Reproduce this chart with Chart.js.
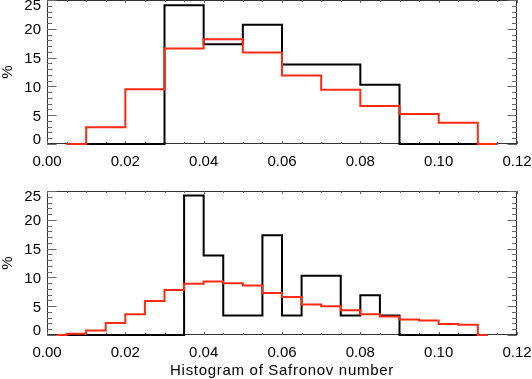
<!DOCTYPE html>
<html>
<head>
<meta charset="utf-8">
<script src="https://cdn.jsdelivr.net/npm/chart.js@4.4.0/dist/chart.umd.min.js"></script>
<style>
    html, body { margin: 0; padding: 0; background: #fff; }
    #wrap { position: relative; width: 532px; height: 379px; }
    .panel { position: absolute; left: 0; width: 532px; }
</style>
</head>
<body>
<div id="wrap">
    <div class="panel" style="top:0"><canvas id="topChart" width="532" height="180"></canvas></div>
    <div class="panel" style="top:180px"><canvas id="bottomChart" width="532" height="199"></canvas></div>
</div>
<script>
// axis ticks
const xTickValues = [0, 0.02, 0.04, 0.06, 0.08, 0.10, 0.12];
const xTickLabels = ["0.00", "0.02", "0.04", "0.06", "0.08", "0.10", "0.12"];
const yTickValues = [0, 5, 10, 15, 20, 25];
const yTickLabels = ["0", "5", "10", "15", "20", "25"];

// top panel: bins of 0.01 (bin centres)
const topBins  = [0.005, 0.015, 0.025, 0.035, 0.045, 0.055, 0.065, 0.075, 0.085, 0.095, 0.105, 0.115];
const topBlack = [0, 0, 0, 24.1, 17.3, 20.7, 13.8, 13.8, 10.3, 0, 0, 0];
const topRed   = [0, 2.9, 9.5, 16.6, 18.2, 15.9, 11.9, 9.4, 6.6, 5.2, 3.7, 0];

// bottom panel: bins of 0.005 (bin centres)
const botBins  = [0.0025, 0.0075, 0.0125, 0.0175, 0.0225, 0.0275, 0.0325, 0.0375, 0.0425, 0.0475, 0.0525, 0.0575,
                  0.0625, 0.0675, 0.0725, 0.0775, 0.0825, 0.0875, 0.0925, 0.0975, 0.1025, 0.1075, 0.1125];
const botBlack = [0, 0, 0, 0, 0, 0, 0, 24.2, 13.8, 3.4, 3.4, 17.3, 3.4, 10.3, 10.3, 3.4, 6.9, 3.4, 0, 0, 0, 0, 0];
const botRed   = [0, 0.2, 0.8, 2.1, 3.6, 5.9, 7.8, 8.9, 9.3, 9.0, 8.6, 7.3, 6.6, 5.3, 5.0, 4.3, 3.6, 3.2, 2.7, 2.5, 1.9, 1.8, 0];

const FONT = '15px "Liberation Sans", Arial, sans-serif';

function minorValues(majors, divisions) {
    const out = [];
    for (let i = 0; i < majors.length - 1; i++) {
        const step = (majors[i + 1] - majors[i]) / divisions;
        for (let k = 1; k < divisions; k++) out.push(majors[i] + k * step);
    }
    return out;
}

// IDL style frame: box + inward ticks on all four sides (under the data), labels
const idlAxes = {
    id: "idlAxes",
    beforeDatasetsDraw(chart) {
        const { ctx, chartArea: a } = chart;
        const xs = chart.scales.x, ys = chart.scales.y;
        ctx.save();
        ctx.strokeStyle = "#333";
        ctx.lineWidth = 1;
        ctx.strokeRect(a.left + 0.5, a.top + 0.5, a.right - a.left - 1, a.bottom - a.top - 1);

        ctx.strokeStyle = "#666";
        ctx.beginPath();
        const xTick = (v, len) => {
            const px = Math.round(xs.getPixelForValue(v)) + 0.5;
            ctx.moveTo(px, a.bottom); ctx.lineTo(px, a.bottom - len);
            ctx.moveTo(px, a.top); ctx.lineTo(px, a.top + len);
        };
        const yTick = (v, len) => {
            const py = Math.round(ys.getPixelForValue(v)) + 0.5;
            ctx.moveTo(a.left, py); ctx.lineTo(a.left + len, py);
            ctx.moveTo(a.right, py); ctx.lineTo(a.right - len, py);
        };
        xTickValues.forEach(v => xTick(v, 3));
        minorValues(xTickValues, 4).forEach(v => xTick(v, 2));
        yTickValues.forEach(v => yTick(v, 9.5));
        minorValues(yTickValues, 5).forEach(v => yTick(v, 5));
        ctx.stroke();
        ctx.restore();
    },
    afterDraw(chart, args, opts) {
        const { ctx, chartArea: a } = chart;
        const xs = chart.scales.x, ys = chart.scales.y;
        ctx.save();
        ctx.fillStyle = "#000";
        ctx.font = FONT;
        ctx.textAlign = "center";
        ctx.textBaseline = "alphabetic";
        xTickValues.forEach((v, i) => {
            ctx.fillText(xTickLabels[i], xs.getPixelForValue(v), a.bottom + 22);
        });

        ctx.textAlign = "right";
        yTickValues.forEach((v, i) => {
            const base = Math.min(Math.max(ys.getPixelForValue(v) + 5.4, a.top + 10), a.bottom);
            ctx.fillText(yTickLabels[i], a.left - 6, base);
        });

        // y title
        ctx.save();
        ctx.translate(8, (a.top + a.bottom) / 2);
        ctx.rotate(-Math.PI / 2);
        ctx.textAlign = "center";
        ctx.textBaseline = "middle";
        ctx.fillText(opts.yTitle || "", 0, 0);
        ctx.restore();

        if (opts.xTitle) {
            ctx.textAlign = "center";
            ctx.letterSpacing = "0.7px";
            ctx.fillText(opts.xTitle, (a.left + a.right) / 2, a.bottom + 40);
        }
        ctx.restore();
    }
};

function pts(xsArr, ysArr) {
    return xsArr.map((x, i) => ({ x: x, y: ysArr[i] }));
}

function makeHist(canvasId, bins, black, red, padding, xTitle) {
    return new Chart(document.getElementById(canvasId), {
        type: "line",
        data: {
            datasets: [
                {
                    data: pts(bins, red),
                    borderColor: "#ff2a14",
                    borderWidth: 2,
                    stepped: "middle",
                    pointRadius: 0,
                    fill: false,
                    clip: 3,
                    order: 0
                },
                {
                    data: pts(bins, black),
                    borderColor: "#000",
                    borderWidth: 2,
                    stepped: "middle",
                    pointRadius: 0,
                    fill: false,
                    clip: 3,
                    order: 1
                }
            ]
        },
        options: {
            responsive: false,
            animation: false,
            layout: { padding: padding },
            plugins: {
                legend: { display: false },
                tooltip: { enabled: false },
                idlAxes: { yTitle: "%", xTitle: xTitle }
            },
            scales: {
                x: { type: "linear", min: 0, max: 0.12, display: false },
                y: { type: "linear", min: 0, max: 25, display: false }
            }
        },
        plugins: [idlAxes]
    });
}

makeHist("topChart", topBins, topBlack, topRed, { left: 47, right: 15, top: 0, bottom: 36 }, "");
makeHist("bottomChart", botBins, botBlack, botRed, { left: 47, right: 15, top: 11, bottom: 44 }, "Histogram of Safronov number");
</script>
</body>
</html>
